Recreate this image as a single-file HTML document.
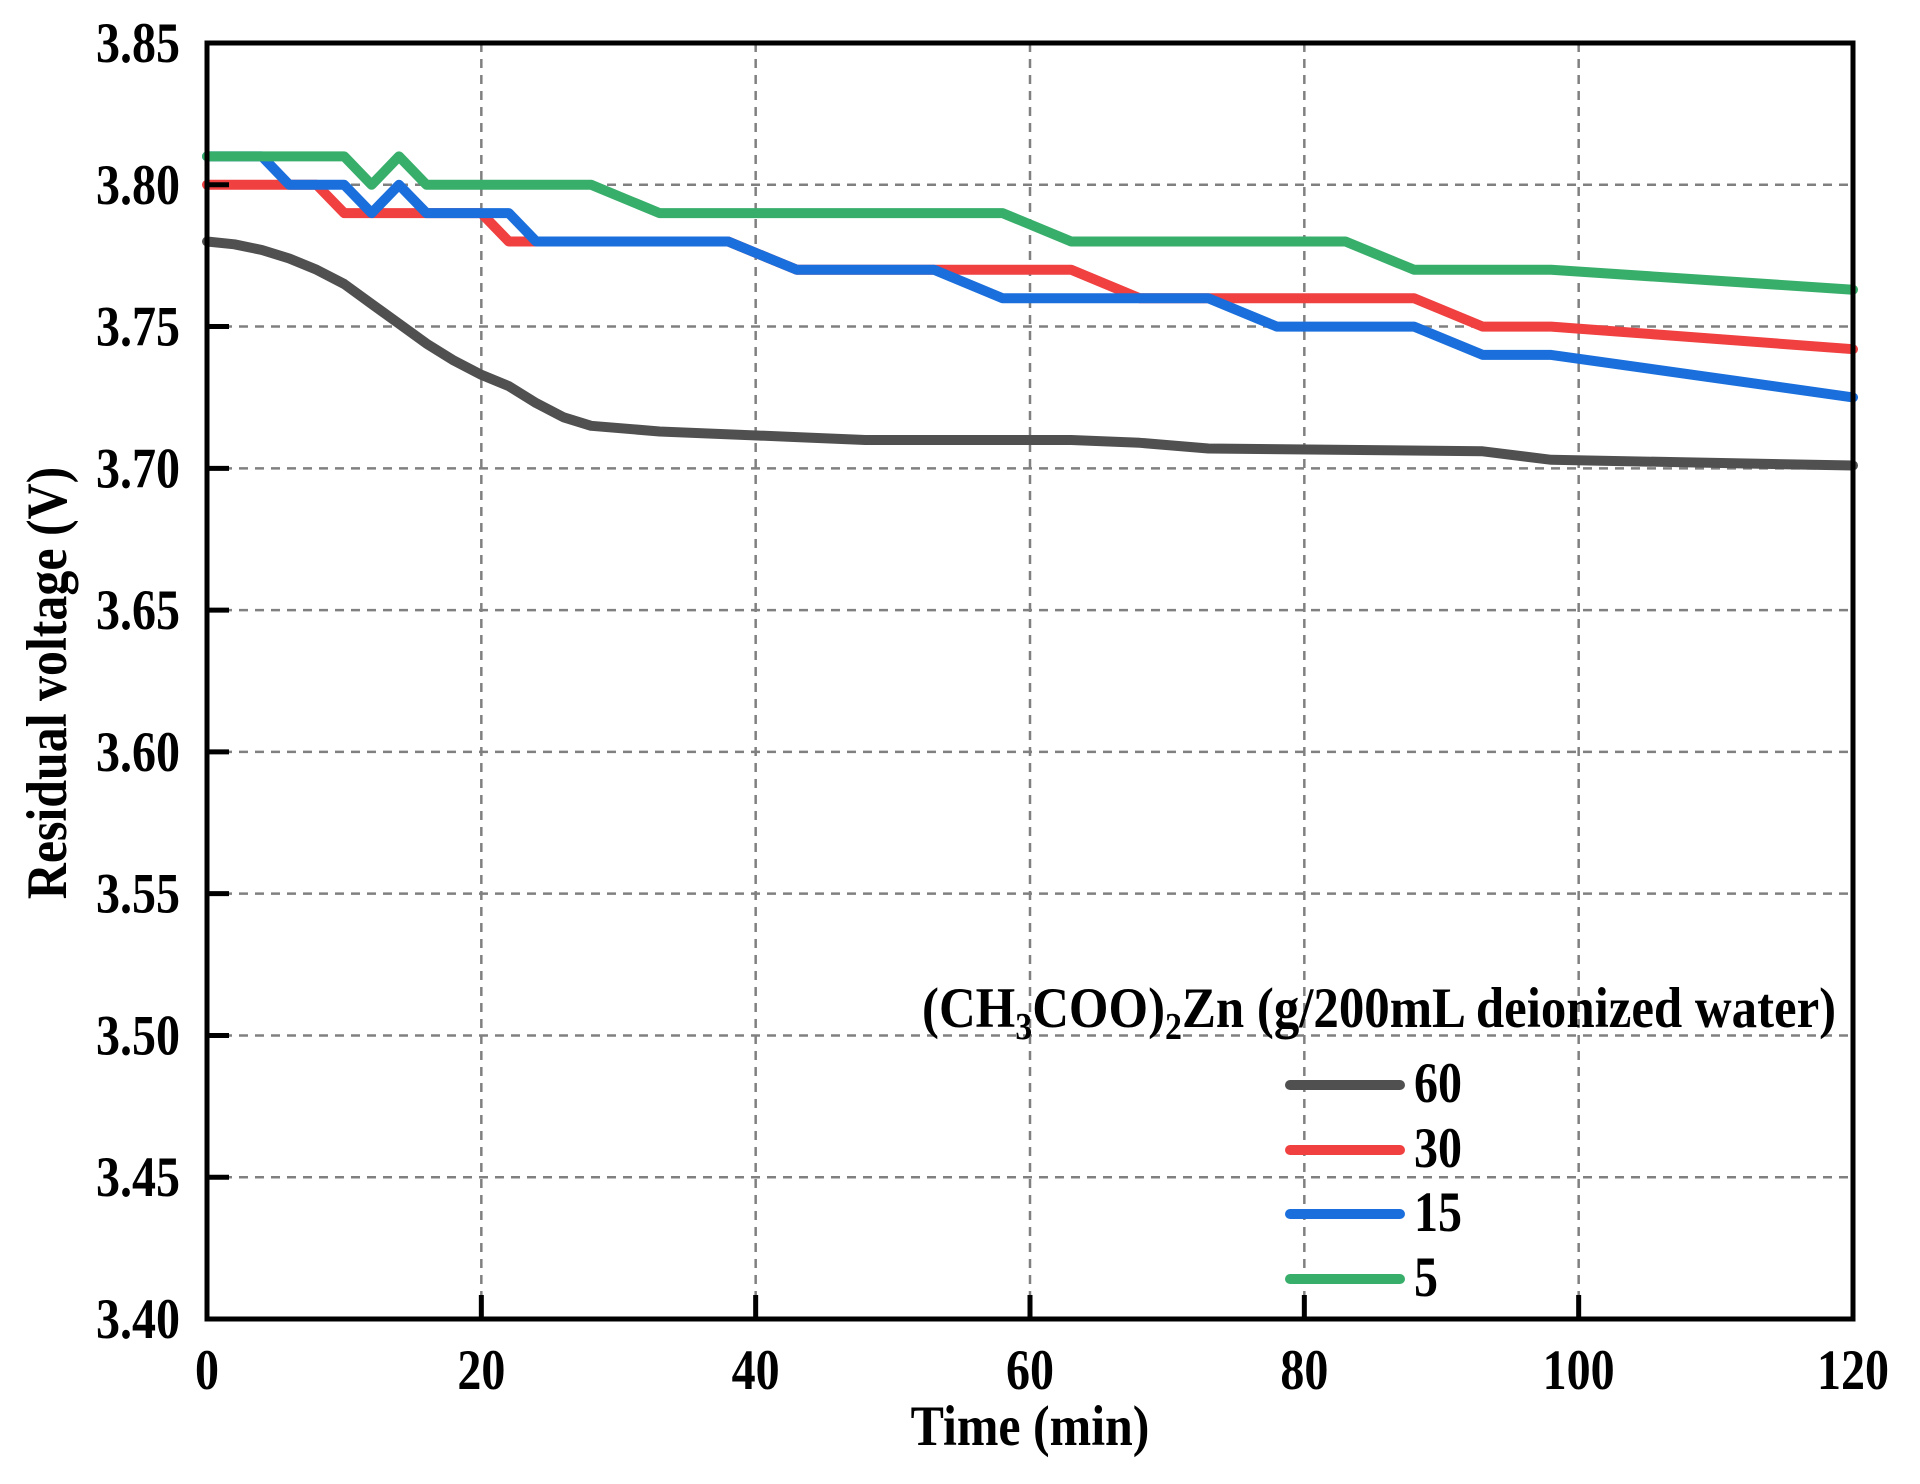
<!DOCTYPE html>
<html><head><meta charset="utf-8"><style>
html,body{margin:0;padding:0;background:#fff;}
svg{display:block;font-family:"Liberation Serif",serif;font-weight:bold;}
</style></head><body>
<svg id="s" width="1920" height="1484" viewBox="0 0 1920 1484" xmlns="http://www.w3.org/2000/svg">
<g id="grid" stroke="#808080" stroke-width="2.5" stroke-dasharray="9,7"></g>
<g id="series" fill="none" stroke-width="10" stroke-linejoin="round" stroke-linecap="round"></g>
<g id="ax"></g>
<text transform="translate(922,1027) scale(1.06,1.2)" font-size="48">(CH<tspan font-size="32" dy="10">3</tspan><tspan dy="-10">COO)</tspan><tspan font-size="32" dy="10">2</tspan><tspan dy="-10">Zn (g/200mL deionized water)</tspan></text>
<g stroke-width="10" stroke-linecap="round">
<line x1="1290" y1="1085" x2="1400" y2="1085" stroke="#505050"/>
<line x1="1290" y1="1150" x2="1400" y2="1150" stroke="#f04040"/>
<line x1="1290" y1="1214" x2="1400" y2="1214" stroke="#1a6fdc"/>
<line x1="1290" y1="1279" x2="1400" y2="1279" stroke="#38ae6b"/>
</g>
<g font-size="48">
<text transform="translate(1414,1102) scale(1,1.2)">60</text>
<text transform="translate(1414,1167) scale(1,1.2)">30</text>
<text transform="translate(1414,1231) scale(1,1.2)">15</text>
<text transform="translate(1414,1296) scale(1,1.2)">5</text>
</g>
<text transform="translate(1030,1445) scale(1.04,1.2)" font-size="48" text-anchor="middle">Time (min)</text>
<text transform="translate(66,683) rotate(-90) scale(1.04,1.2)" font-size="48" text-anchor="middle">Residual voltage (V)</text>
</svg>
<script>
var L=207,R=1853,T=43,B=1319;
function X(t){return L+(R-L)*t/120;}
function Y(v){return T+(3.85-v)*(B-T)/0.45;}
var NS="http://www.w3.org/2000/svg";
function el(p,n,a,txt){var e=document.createElementNS(NS,n);for(var k in a)e.setAttribute(k,a[k]);if(txt!==undefined)e.textContent=txt;document.getElementById(p).appendChild(e);return e;}
for(var t=20;t<120;t+=20)el("grid","line",{x1:X(t),x2:X(t),y1:T,y2:B});
for(var i=1;i<9;i++){var v=3.40+0.05*i;el("grid","line",{x1:L,x2:R,y1:Y(v),y2:Y(v)});}
var S=[
["#505050",[[0,3.78],[2,3.779],[4,3.777],[6,3.774],[8,3.770],[10,3.765],[12,3.758],[14,3.751],[16,3.744],[18,3.738],[20,3.733],[22,3.729],[24,3.723],[26,3.718],[28,3.715],[33,3.713],[43,3.711],[48,3.710],[63,3.710],[68,3.709],[73,3.707],[93,3.706],[98,3.703],[120,3.701]]],
["#f04040",[[0,3.80],[8,3.80],[10,3.79],[20,3.79],[22,3.78],[38,3.78],[43,3.77],[63,3.77],[68,3.76],[88,3.76],[93,3.75],[98,3.75],[120,3.742]]],
["#1a6fdc",[[0,3.81],[4,3.81],[6,3.80],[10,3.80],[12,3.79],[14,3.80],[16,3.79],[22,3.79],[24,3.78],[38,3.78],[43,3.77],[53,3.77],[58,3.76],[73,3.76],[78,3.75],[88,3.75],[93,3.74],[98,3.74],[120,3.725]]],
["#38ae6b",[[0,3.81],[10,3.81],[12,3.80],[14,3.81],[16,3.80],[28,3.80],[33,3.79],[58,3.79],[63,3.78],[83,3.78],[88,3.77],[98,3.77],[120,3.763]]]
];
S.forEach(function(s){el("series","polyline",{stroke:s[0],points:s[1].map(function(p){return X(p[0]).toFixed(1)+","+Y(p[1]).toFixed(1);}).join(" ")});});
el("ax","rect",{x:L,y:T,width:R-L,height:B-T,fill:"none",stroke:"#000","stroke-width":5});
for(var t=0;t<=120;t+=20){el("ax","line",{x1:X(t),x2:X(t),y1:B,y2:B-24,stroke:"#000","stroke-width":5});
el("ax","text",{transform:"translate("+X(t)+",1389) scale(1,1.2)","font-size":48,"text-anchor":"middle"},String(t));}
for(var i=0;i<=9;i++){var v=3.40+0.05*i;el("ax","line",{x1:L,x2:L+22,y1:Y(v),y2:Y(v),stroke:"#000","stroke-width":5});
el("ax","text",{transform:"translate(180,"+(Y(v)+19)+") scale(1,1.2)","font-size":48,"text-anchor":"end"},v.toFixed(2));}
</script>
</body></html>
